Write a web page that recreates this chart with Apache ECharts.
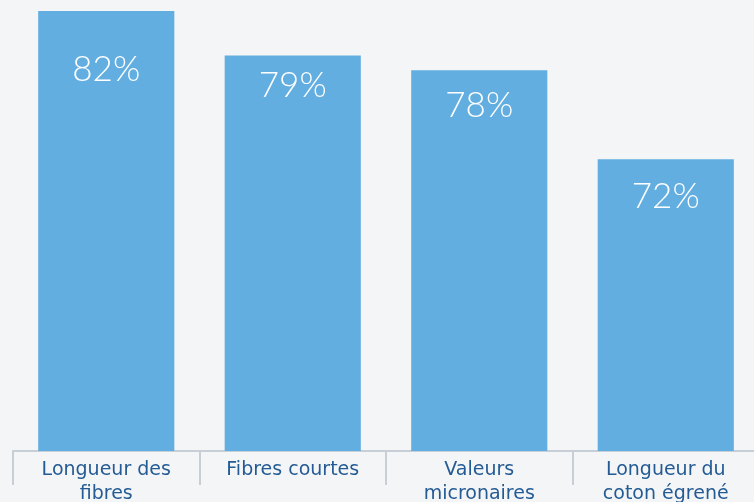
<!DOCTYPE html>
<html lang="fr">
<head>
<meta charset="UTF-8">
<title>Chart</title>
<style>
  * { margin: 0; padding: 0; }
  html, body { width: 100%; height: 100%; background: #f4f5f7; }
  #chart { width: 754px; height: 502px; }
</style>
</head>
<body>
<div id="chart"></div>
<script src="https://cdn.jsdelivr.net/npm/echarts@6/dist/echarts.min.js"></script>
<script>
  var categories = ['Longueur des\nfibres', 'Fibres courtes', 'Valeurs\nmicronaires', 'Longueur du\ncoton égrené'];
  var values = [82, 79, 78, 72];
  // distance of the percent label below each bar top
  var labelGap = [41, 13, 18, 20];

  var myChart = echarts.init(document.getElementById('chart'));
  myChart.setOption({
    backgroundColor: '#f4f5f7',
    grid: { left: 13, right: -5, top: 11, bottom: 51, outerBoundsMode: 'none', containLabel: false },
    xAxis: {
      type: 'category',
      data: categories,
      axisLine: { show: true, lineStyle: { color: '#c8ced6', width: 2 } },
      axisTick: { show: true, length: 34, lineStyle: { color: '#c8ced6', width: 2 } },
      axisLabel: {
        color: '#245b94',
        fontSize: 19,
        lineHeight: 24,
        margin: 7,
        fontFamily: '"DejaVu Sans", sans-serif',
        interval: 0
      }
    },
    yAxis: {
      type: 'value',
      min: 52.3,
      max: 82,
      show: false,
      splitLine: { show: false }
    },
    series: [{
      type: 'bar',
      data: values.map(function (v, i) {
        return { value: v, label: { distance: labelGap[i] } };
      }),
      barCategoryGap: '27%',
      itemStyle: { color: '#62aee0', borderWidth: 0 },
      label: {
        show: true,
        position: 'insideTop',
        formatter: '{c}%',
        color: '#ffffff',
        fontSize: 35,
        fontWeight: 300,
        fontFamily: 'Lato, "Open Sans", sans-serif'
      },
      silent: true
    }],
    animation: false
  });
</script>
</body>
</html>
